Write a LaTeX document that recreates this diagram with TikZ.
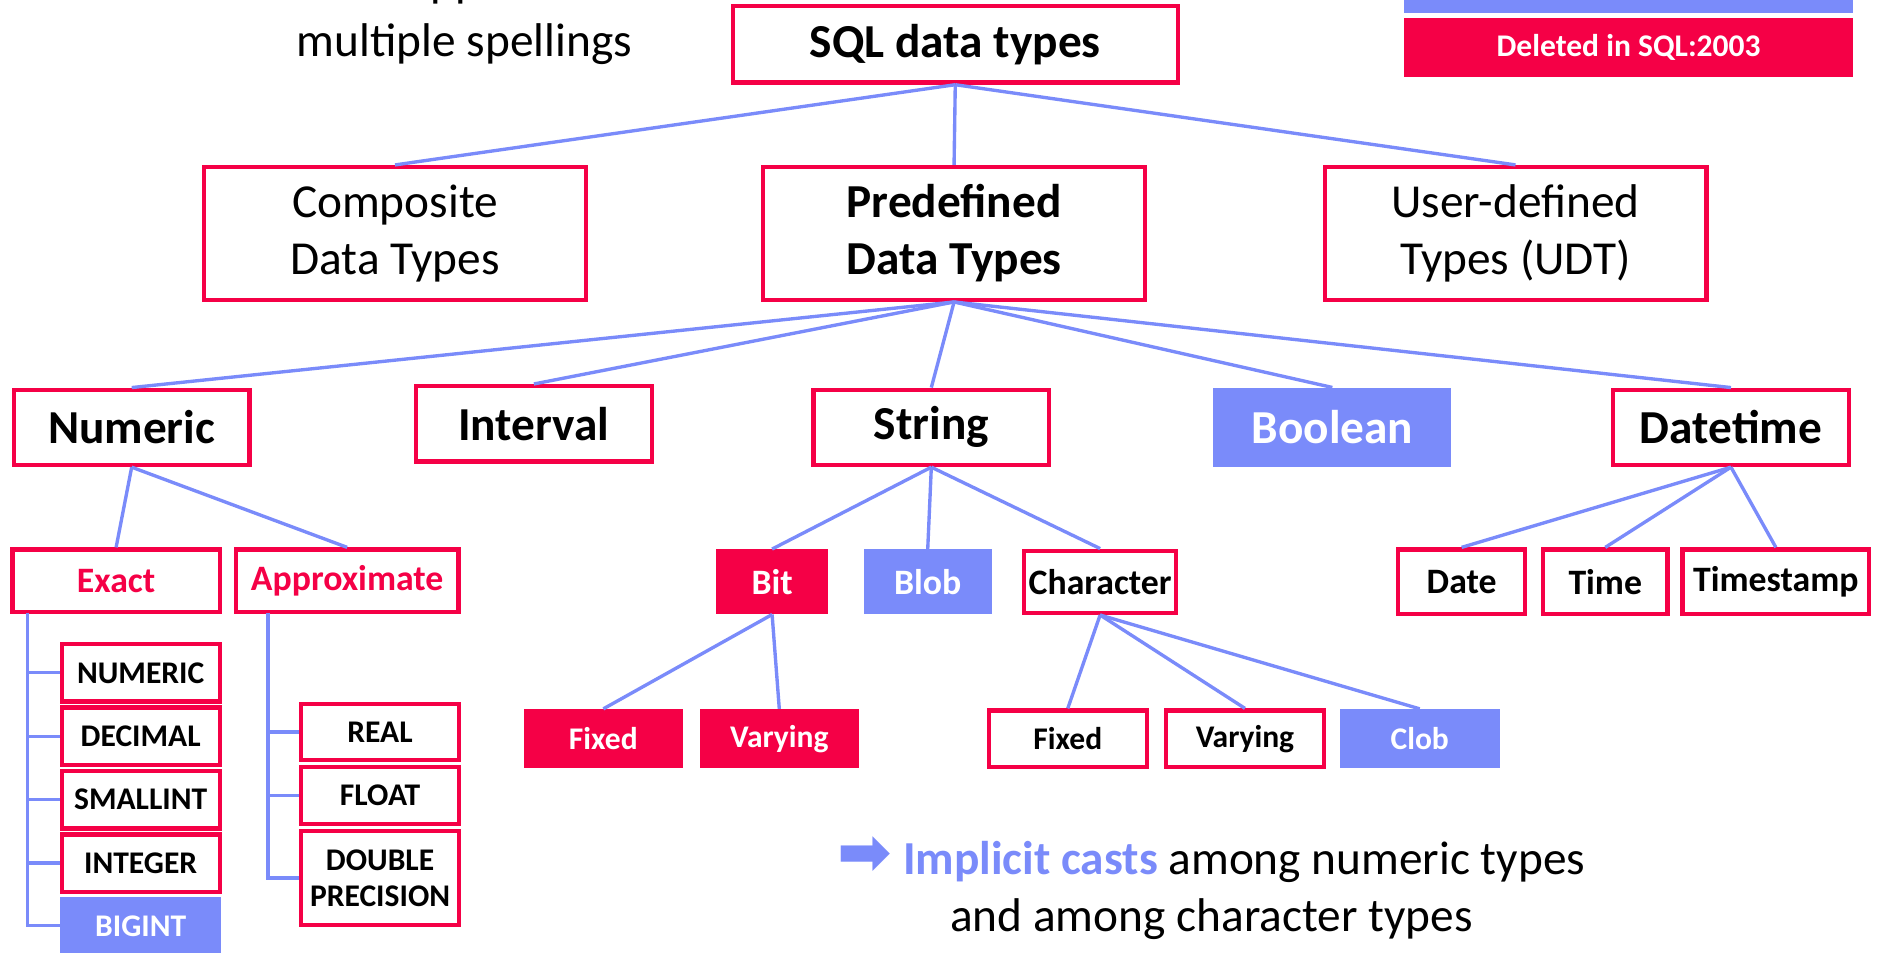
\documentclass[tikz,border=0pt]{standalone}
\usepackage{fontspec}
\setmainfont{Carlito}
\newfontfamily\arrowfont{DejaVu Sans}
\usepackage{xcolor}
\usetikzlibrary{positioning}
\definecolor{SqlRed}{HTML}{F50046}
\definecolor{SqlBlue}{HTML}{7A8BFA}
\newcommand{\sizeL}{\fontsize{22.5}{27}\selectfont}
\newcommand{\sizeM}{\fontsize{17}{20}\selectfont}
\newcommand{\sizeS}{\fontsize{15}{17.4}\selectfont}

\begin{document}
\begin{tikzpicture}[
  x=0.02cm, y=-0.02cm,
  typebox/.style={draw=SqlRed, line width=2pt, fill=white, inner sep=0pt, align=center},
  redfill/.style={fill=SqlRed, text=white, inner sep=0pt, align=center},
  bluefill/.style={fill=SqlBlue, text=white, inner sep=0pt, align=center},
  kindbox/.style={minimum width=6.38cm, minimum height=2.22cm, font=\sizeL},
  catbox/.style={minimum width=3.94cm, minimum height=1.26cm, font=\sizeL\bfseries},
  subbox/.style={minimum height=1.04cm, font=\sizeM\bfseries},
  listbox/.style={minimum width=2.64cm, minimum height=0.96cm, font=\sizeS\bfseries},
  leafbox/.style={minimum width=2.64cm, minimum height=0.94cm, font=\sizeS\bfseries},
  link/.style={draw=SqlBlue, line width=1.6pt}
]
  \useasboundingbox (0,0) rectangle (1568,796);

  % note and legend
  \node[anchor=base, font=\sizeL] (spellcut) at (386,-3) {support};
  \node[anchor=base, font=\sizeL] (spelling) at (388,47) {multiple spellings};
  \node[bluefill, minimum width=7.5cm, minimum height=1cm, anchor=south] (legnew) at (1360.5,11) {};
  \node[redfill, minimum width=7.5cm, minimum height=0.98cm, font=\sizeS\bfseries] (legdeleted) at (1360.5,39.5) {Deleted in SQL:2003};

  % levels 1 and 2
  \node[typebox, minimum width=7.44cm, minimum height=1.28cm, font=\sizeL\bfseries] (sqltypes) at (798,37) {SQL data types};
  \node[typebox, kindbox] (composite) at (330,195) {Composite\\Data Types};
  \node[typebox, kindbox, font=\sizeL\bfseries] (predefined) at (797,195) {Predefined\\Data Types};
  \node[typebox, kindbox] (udt) at (1266,195) {User-defined\\Types (UDT)};

  % level 3
  \node[typebox, catbox] (numeric) at (110,357) {Numeric};
  \node[typebox, catbox] (interval) at (446,354) {Interval};
  \node[typebox, catbox] (string) at (778,357) {String};
  \node[bluefill, catbox, minimum width=3.98cm, minimum height=1.32cm] (boolean) at (1113,357) {Boolean};
  \node[typebox, catbox] (datetime) at (1446,357) {Datetime};

  % numeric
  \node[typebox, subbox, minimum width=3.46cm, text=SqlRed] (exact) at (97,485) {Exact};
  \node[typebox, subbox, minimum width=3.72cm, text=SqlRed] (approx) at (290,485) {Approximate};
  \node[typebox, listbox] (xnumeric) at (117.5,562) {NUMERIC};
  \node[typebox, listbox, below=0.03cm of xnumeric] (decimal) {DECIMAL};
  \node[typebox, listbox, below=0.03cm of decimal] (smallint) {SMALLINT};
  \node[typebox, listbox, below=0.03cm of smallint] (integer) {INTEGER};
  \node[bluefill, listbox, minimum width=2.68cm, minimum height=0.97cm, below=0.04cm of integer] (bigint) {BIGINT};
  \node[typebox, listbox, minimum height=0.94cm] (real) at (317.5,611.5) {REAL};
  \node[typebox, listbox, below=0.04cm of real] (float) {FLOAT};
  \node[typebox, listbox, minimum height=1.58cm, below=0.04cm of float] (double) {DOUBLE\\PRECISION};
  \coordinate (exacttrunk) at (23,512);
  \coordinate (approxtrunk) at (224,512);

  % string
  \node[redfill, subbox, minimum width=1.86cm, minimum height=1.08cm] (bit) at (645,486) {Bit};
  \node[bluefill, subbox, minimum width=2.14cm, minimum height=1.08cm] (blob) at (775,486) {Blob};
  \node[typebox, subbox, minimum width=2.54cm] (character) at (919,486) {Character};
  \node[redfill, leafbox, minimum width=2.66cm, minimum height=0.98cm] (bitfixed) at (504,617) {Fixed};
  \node[redfill, leafbox, minimum width=2.66cm, minimum height=0.98cm] (bitvarying) at (651,617) {Varying};
  \node[typebox, leafbox] (charfixed) at (892,617) {Fixed};
  \node[typebox, leafbox] (charvarying) at (1040,617) {Varying};
  \node[bluefill, leafbox, minimum width=2.68cm, minimum height=0.98cm] (clob) at (1186,617) {Clob};

  % datetime
  \node[typebox, subbox, minimum width=2.12cm, minimum height=1.08cm] (date) at (1221,486) {Date};
  \node[typebox, subbox, minimum width=2.08cm, minimum height=1.08cm] (time) at (1341,486) {Time};
  \node[typebox, subbox, minimum width=3.12cm, minimum height=1.08cm] (timestamp) at (1483.5,486) {Timestamp};

  \node[align=center, font=\sizeL] (casts) at (1012,742) {{\color{SqlBlue}\bfseries{\arrowfont\bfseries\fontsize{31}{27}\selectfont\char"27A1} Implicit casts} among numeric types\\and among character types};

  % connectors
  \foreach \kid in {composite,predefined,udt}
    \draw[link] (sqltypes.south) -- (\kid.north);
  \foreach \kid in {numeric,interval,string,boolean,datetime}
    \draw[link] (predefined.south) -- (\kid.north);
  \foreach \kid in {exact,approx}
    \draw[link] (numeric.south) -- (\kid.north);
  \foreach \kid in {bit,blob,character}
    \draw[link] (string.south) -- (\kid.north);
  \foreach \kid in {bitfixed,bitvarying}
    \draw[link] (bit.south) -- (\kid.north);
  \foreach \kid in {charfixed,charvarying,clob}
    \draw[link] (character.south) -- (\kid.north);
  \foreach \kid in {date,time,timestamp}
    \draw[link] (datetime.south) -- (\kid.north);
  \foreach \kid in {xnumeric,decimal,smallint,integer,bigint}
    \draw[link] (exacttrunk) |- (\kid.west);
  \foreach \kid in {real,float,double}
    \draw[link] (approxtrunk) |- (\kid.west);
\end{tikzpicture}
\end{document}
